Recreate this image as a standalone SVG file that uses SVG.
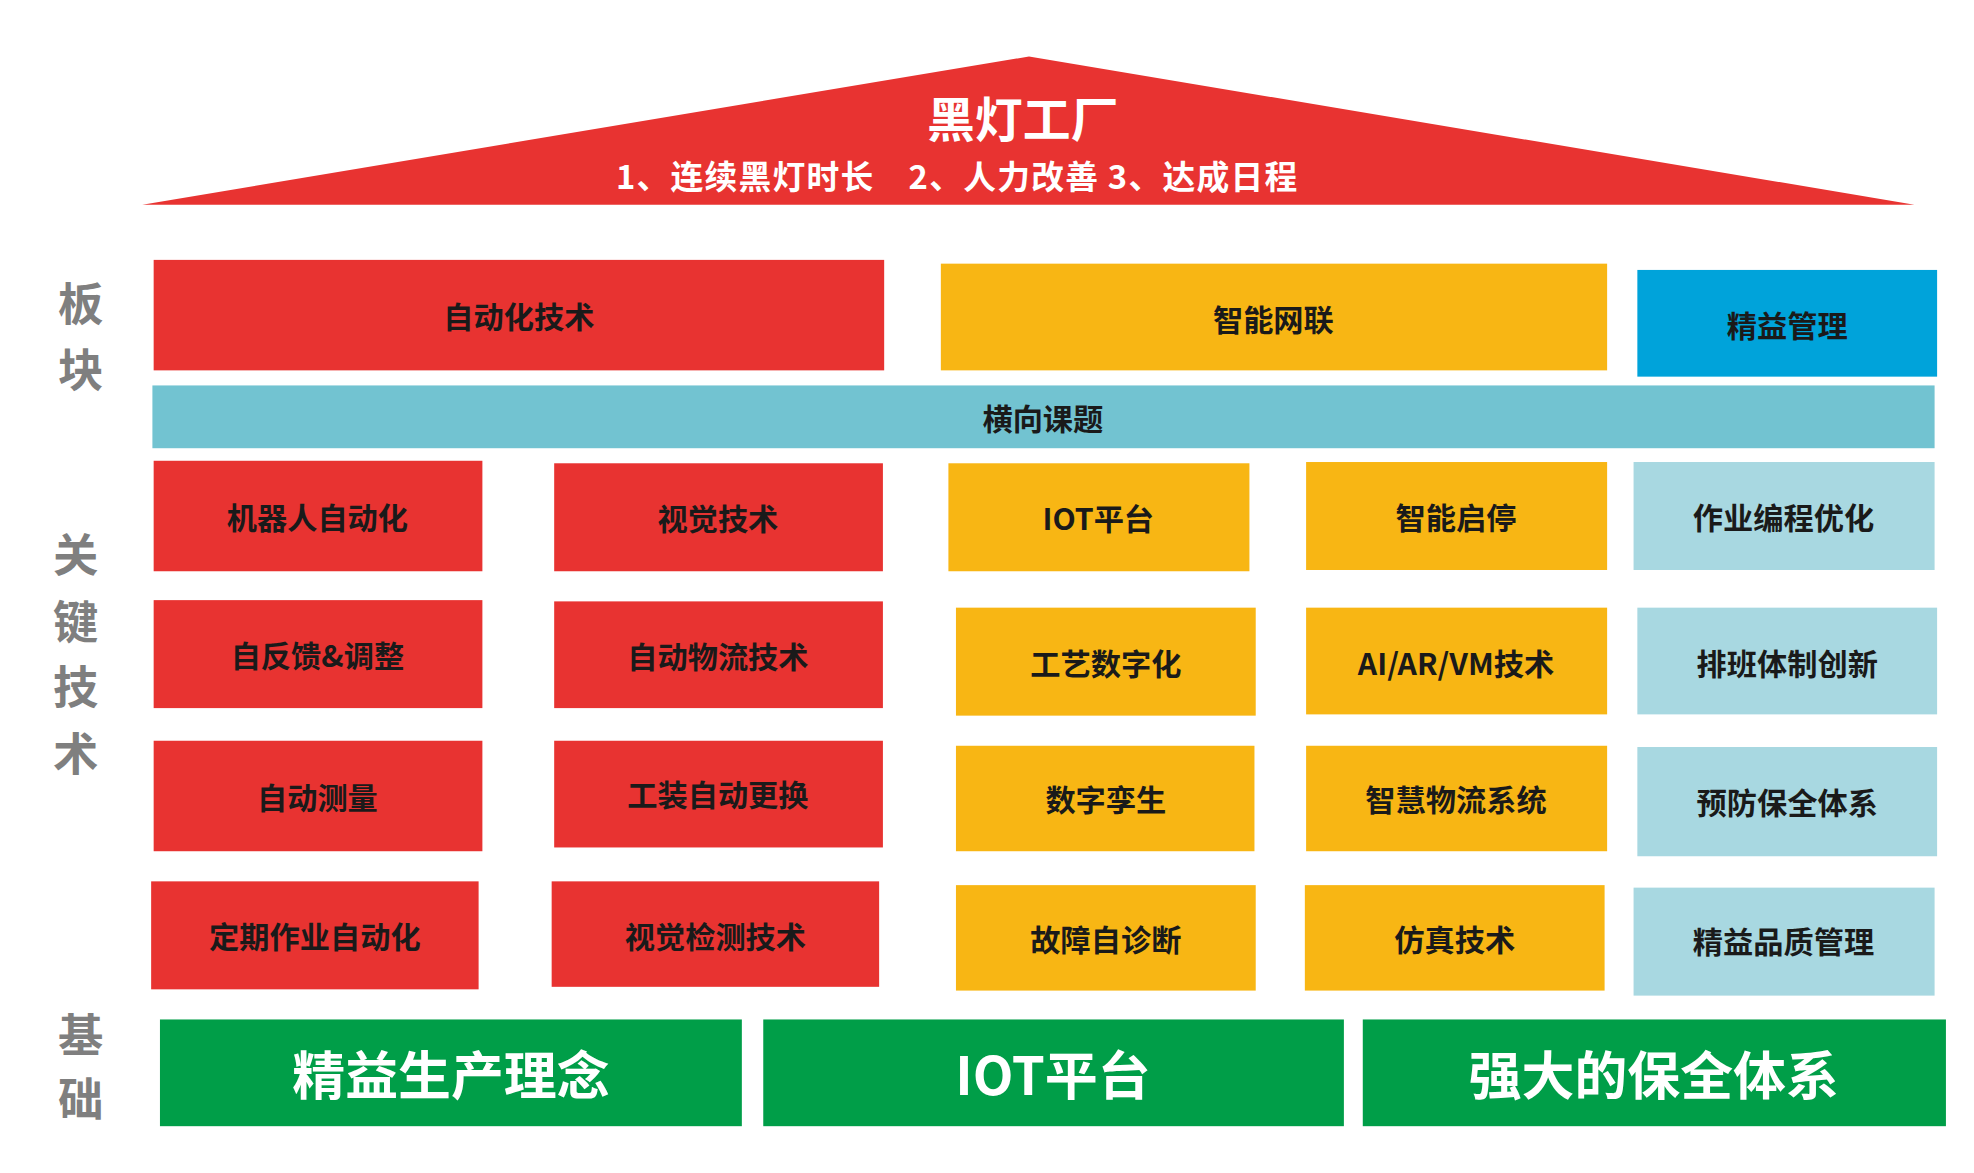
<svg xmlns="http://www.w3.org/2000/svg" width="1974" height="1173" viewBox="0 0 1974 1173">
<style>
text{font-family:"Noto Sans CJK SC","Liberation Sans",sans-serif;font-weight:bold;text-anchor:middle;dominant-baseline:central}
.c{font-size:24px;fill:#1a1a1a}
.s{font-size:36px;fill:#7f7f7f}
.f{font-size:42px;fill:#fff}
.r{fill:#E83331}.o{fill:#F8B614}.b{fill:#00A3DA}.l{fill:#A8D8E1}.g{fill:#009E48}
</style>
<rect width="1974" height="1173" fill="#fff"/>
<g transform="scale(1.2595 1.2555)">
<g id="roof"><polygon class="r" points="113,163 817,45 1520,163"/>
<text x="812" y="93" style="font-size:38px;fill:#fff">黑灯工厂</text>
<text x="760" y="139" style="font-size:26px;fill:#fff;letter-spacing:1px">1、连续黑灯时长　2、人力改善 3、达成日程</text></g>
<g id="side">
<text class="s" x="64" y="240">板</text><text class="s" x="64" y="292">块</text>
<text class="s" x="60" y="440">关</text><text class="s" x="60" y="493">键</text><text class="s" x="60" y="545">技</text><text class="s" x="60" y="598">术</text>
<text class="s" x="64" y="822">基</text><text class="s" x="64" y="873">础</text></g>
<g id="n-auto"><rect class="r" x="122" y="207" width="580" height="88"/><text class="c" x="412" y="251">自动化技术</text></g>
<g id="n-net"><rect class="o" x="747" y="210" width="529" height="85"/><text class="c" x="1011" y="253">智能网联</text></g>
<g id="n-lean"><rect class="b" x="1300" y="215" width="238" height="85"/><text class="c" x="1419" y="258">精益管理</text></g>
<g id="n-band"><rect x="121" y="307" width="1415" height="50" fill="#72C3D1"/><text class="c" x="828" y="332">横向课题</text></g>
<g id="r1">
<rect class="r" x="122" y="367" width="261" height="88"/><text class="c" x="252" y="411">机器人自动化</text>
<rect class="r" x="440" y="369" width="261" height="86"/><text class="c" x="570" y="412">视觉技术</text>
<rect class="o" x="753" y="369" width="239" height="86"/><text class="c" x="872" y="412">IOT平台</text>
<rect class="o" x="1037" y="368" width="239" height="86"/><text class="c" x="1156" y="411">智能启停</text>
<rect class="l" x="1297" y="368" width="239" height="86"/><text class="c" x="1416" y="411">作业编程优化</text></g>
<g id="r2">
<rect class="r" x="122" y="478" width="261" height="86"/><text class="c" x="252" y="521">自反馈&amp;调整</text>
<rect class="r" x="440" y="479" width="261" height="85"/><text class="c" x="570" y="522">自动物流技术</text>
<rect class="o" x="759" y="484" width="238" height="86"/><text class="c" x="878" y="527">工艺数字化</text>
<rect class="o" x="1037" y="484" width="239" height="85"/><text class="c" x="1156" y="527">AI/AR/VM技术</text>
<rect class="l" x="1300" y="484" width="238" height="85"/><text class="c" x="1419" y="527">排班体制创新</text></g>
<g id="r3">
<rect class="r" x="122" y="590" width="261" height="88"/><text class="c" x="252" y="634">自动测量</text>
<rect class="r" x="440" y="590" width="261" height="85"/><text class="c" x="570" y="632">工装自动更换</text>
<rect class="o" x="759" y="594" width="237" height="84"/><text class="c" x="878" y="636">数字孪生</text>
<rect class="o" x="1037" y="594" width="239" height="84"/><text class="c" x="1156" y="636">智慧物流系统</text>
<rect class="l" x="1300" y="595" width="238" height="87"/><text class="c" x="1419" y="638">预防保全体系</text></g>
<g id="r4">
<rect class="r" x="120" y="702" width="260" height="86"/><text class="c" x="250" y="745">定期作业自动化</text>
<rect class="r" x="438" y="702" width="260" height="84"/><text class="c" x="568" y="745">视觉检测技术</text>
<rect class="o" x="759" y="705" width="238" height="84"/><text class="c" x="878" y="747">故障自诊断</text>
<rect class="o" x="1036" y="705" width="238" height="84"/><text class="c" x="1155" y="747">仿真技术</text>
<rect class="l" x="1297" y="707" width="239" height="86"/><text class="c" x="1416" y="749">精益品质管理</text></g>
<g id="base">
<rect class="g" x="127" y="812" width="462" height="85"/><text class="f" x="358" y="854">精益生产理念</text>
<rect class="g" x="606" y="812" width="461" height="85"/><text class="f" x="836" y="854">IOT平台</text>
<rect class="g" x="1082" y="812" width="463" height="85"/><text class="f" x="1313" y="854">强大的保全体系</text></g>
<g id="connectors"/>
</g>
</svg>
